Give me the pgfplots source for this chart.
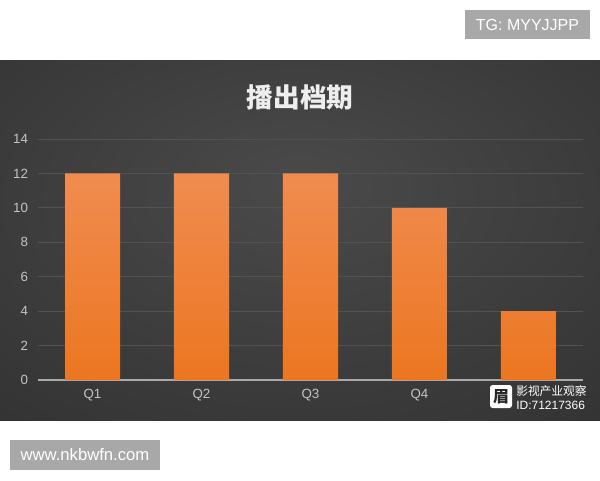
\documentclass[border=0pt]{standalone}
\usepackage{pgfplots}
\pgfplotsset{compat=1.18}
\usepackage{fontspec}
\setmainfont{Liberation Sans}
\newfontfamily\cjk{Noto Sans CJK SC}
\definecolor{barTop}{HTML}{F08C50}
\definecolor{barBot}{HTML}{EC7620}
\definecolor{gridc}{HTML}{525252}
\definecolor{labc}{HTML}{C4C4C4}
\definecolor{wm}{HTML}{A8A8A8}
\definecolor{bgIn}{HTML}{4A4A4A}
\definecolor{bgMid}{HTML}{2E2E2E}
\definecolor{bgOut}{HTML}{1E1E1E}
\pgfdeclareradialshading{bgshade}{\pgfpoint{0bp}{8bp}}{color(0bp)=(bgIn); color(48bp)=(bgMid); color(75bp)=(bgOut)}
\begin{document}
\begin{tikzpicture}[x=0.75pt,y=0.75pt]
\fill[white] (0,0) rectangle (600,480);
\shade[shading=bgshade] (0,60) rectangle (600,420);
\begin{axis}[
  at={(28.5pt,75pt)}, anchor=south west,
  scale only axis, width=408.75pt, height=180.75pt,
  xmin=-0.5, xmax=4.5, ymin=0, ymax=14,
  ytick={0,2,...,14},
  xtick={0,1,2,3,4},
  xticklabels={Q1,Q2,Q3,Q4,{}},
  axis lines=left,
  axis line style={-},
  x axis line style={draw={rgb,255:red,170;green,170;blue,170}, line width=1.5pt},
  y axis line style={draw=none},
  major tick length=0pt,
  ymajorgrids,
  grid style={gridc, line width=0.75pt},
  tick label style={font=\fontsize{10}{12}\selectfont, text=labc},
  /pgf/number format/assume math mode=true,
  yticklabel style={xshift=-4pt},
  xticklabel style={yshift=-3pt},
  clip=false,
]
\addplot[ybar, bar width=41.25pt, draw=none, top color=barTop, bottom color=barBot, shading angle=0]
  coordinates {(0,12) (1,12) (2,12) (3,10) (4,4)};
\end{axis}
\node[text={rgb,255:red,238;green,238;blue,238}, font=\cjk\bfseries\fontsize{20}{24}\selectfont] at (300,383) {播出档期};
\fill[wm] (465,441) rectangle (590,470);
\node[white, font=\fontsize{12}{14}\selectfont] at (527.5,455.5) {TG: MYYJJPP};
\fill[wm] (10,10) rectangle (160,40);
\node[white, font=\fontsize{12.5}{15}\selectfont] at (85,25) {www.nkbwfn.com};
\fill[white, rounded corners=2pt] (490,72) rectangle (512,95);
\node[text={rgb,255:red,40;green,40;blue,40}, font=\cjk\bfseries\fontsize{12}{14}\selectfont] at (501,83.5) {眉};
\node[white, anchor=west, font=\cjk\fontsize{8.8}{10}\selectfont, inner sep=0pt] at (516,89) {影视产业观察};
\node[white, anchor=west, font=\fontsize{9}{10}\selectfont, inner sep=0pt] at (516,75) {ID:71217366};
\end{tikzpicture}
\end{document}
